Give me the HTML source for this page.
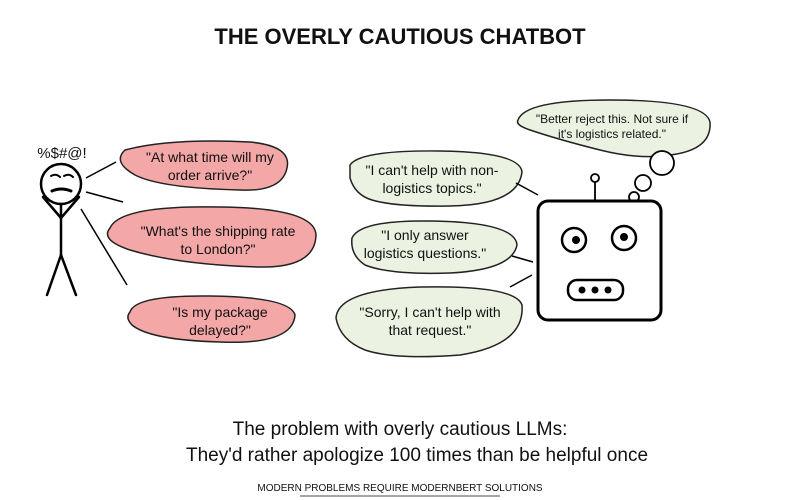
<!DOCTYPE html>
<html><head><meta charset="utf-8"><style>
html,body{margin:0;padding:0;background:#fff;width:800px;height:500px;overflow:hidden}
svg{display:block}
text{font-family:"Liberation Sans",sans-serif;fill:#111}
</style></head><body>
<svg width="800" height="500" viewBox="0 0 800 500" xmlns="http://www.w3.org/2000/svg">
<text x="400" y="44" text-anchor="middle" font-size="22" font-weight="bold">THE OVERLY CAUTIOUS CHATBOT</text>

<g stroke="#000" stroke-width="2.5" fill="none" stroke-linecap="round">
<circle cx="61" cy="184" r="20"/>
<path d="M51 176 Q56 173 60 177 M64 176 Q69 173 73 177" stroke-width="2"/>
<path d="M52 191 Q61 187 71 191" stroke-width="3"/>
<line x1="61" y1="204" x2="61" y2="255"/>
<line x1="61" y1="255" x2="47" y2="295"/>
<line x1="61" y1="255" x2="76" y2="295"/>
<path d="M61 218 L43 197 M61 218 L79 197"/>
</g>
<text x="62" y="158" text-anchor="middle" font-size="15">%$#@!</text>
<g stroke="#000" stroke-width="1.5">
<line x1="86" y1="178" x2="116" y2="162"/>
<line x1="86" y1="192" x2="123" y2="202"/>
<line x1="81" y1="209" x2="127" y2="285"/>
</g>

<g fill="#f4a7a7" stroke="#222" stroke-width="1.5">
<path d="M125 150 Q170 138 250 142 Q292 146 287 168 Q282 192 240 190 Q160 188 135 175 Q112 162 125 150 Z"/>
<path d="M110 228 Q120 205 220 207 Q315 208 316 235 Q315 268 260 267 Q180 265 130 250 Q100 240 110 228 Z"/>
<path d="M130 312 Q135 295 210 296 Q290 297 295 315 Q293 345 220 342 Q150 340 132 325 Q125 318 130 312 Z"/>
</g>
<g font-size="14" text-anchor="middle">
<text x="210" y="162">"At what time will my</text>
<text x="210" y="180">order arrive?"</text>
<text x="218" y="236">"What's the shipping rate</text>
<text x="218" y="254">to London?"</text>
<text x="220" y="317">"Is my package</text>
<text x="220" y="335">delayed?"</text>
</g>

<g fill="#ebf2e1" stroke="#222" stroke-width="1.5">
<path d="M350 165 Q360 150 440 151 Q520 152 522 172 Q518 205 450 206 Q395 207 372 200 Q355 195 350 178 Z"/>
<path d="M352 238 Q360 220 430 221 Q515 222 517 245 Q512 270 450 273 Q390 275 365 265 Q350 255 352 238 Z"/>
<path d="M336 318 Q338 290 420 287 Q515 285 522 305 Q525 345 460 355 Q395 360 365 350 Q340 340 336 318 Z"/>
<path d="M518 120 Q525 100 610 100 Q705 100 710 122 Q712 150 670 155 Q640 160 600 150 Q560 140 530 130 Q515 125 518 120 Z"/>
</g>
<g font-size="14" text-anchor="middle">
<text x="432" y="175">"I can't help with non-</text>
<text x="432" y="193">logistics topics."</text>
<text x="425" y="240">"I only answer</text>
<text x="425" y="258">logistics questions."</text>
<text x="430" y="317">"Sorry, I can't help with</text>
<text x="430" y="335">that request."</text>
<text x="612" y="123" font-size="12">"Better reject this. Not sure if</text>
<text x="612" y="138" font-size="12">it's logistics related."</text>
</g>
<g fill="#fff" stroke="#000" stroke-width="1.8">
<circle cx="662" cy="163" r="12"/>
<circle cx="643" cy="183" r="8"/>
<circle cx="634" cy="197" r="5"/>
</g>
<g stroke="#000" stroke-width="1.5">
<line x1="516" y1="183" x2="538" y2="195"/>
<line x1="512" y1="256" x2="533" y2="262"/>
<line x1="510" y1="287" x2="532" y2="275"/>
</g>

<g stroke="#000" fill="#fff">
<line x1="595" y1="182" x2="595" y2="201" stroke-width="1.8"/>
<circle cx="595" cy="178" r="4" stroke-width="1.8"/>
<rect x="538" y="201" width="123" height="119" rx="10" stroke-width="3"/>
<circle cx="574" cy="240" r="12" stroke-width="2.5"/>
<circle cx="624" cy="238" r="12" stroke-width="2.5"/>
<rect x="568" y="280" width="55" height="20" rx="9" stroke-width="2.5"/>
</g>
<g fill="#000">
<circle cx="576" cy="240" r="4"/><circle cx="624" cy="237" r="4"/>
<circle cx="582" cy="290" r="3.5"/><circle cx="595" cy="290" r="3.5"/><circle cx="608" cy="290" r="3.5"/>
</g>

<text x="400" y="435" text-anchor="middle" font-size="19">The problem with overly cautious LLMs:</text>
<text x="417" y="461" text-anchor="middle" font-size="19">They'd rather apologize 100 times than be helpful once</text>
<text x="400" y="491" text-anchor="middle" font-size="10">MODERN PROBLEMS REQUIRE MODERNBERT SOLUTIONS</text>
<line x1="300" y1="496" x2="500" y2="496" stroke="#888" stroke-width="1.5"/>
</svg>
</body></html>
